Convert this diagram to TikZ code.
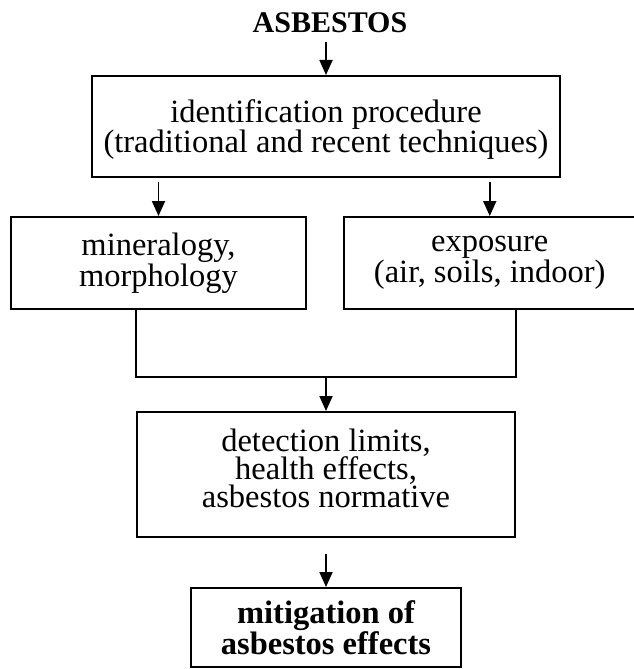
\documentclass[tikz,border=0pt]{standalone}
\usepackage{fontspec}
\setmainfont{Liberation Serif}
\usetikzlibrary{arrows.meta}
\newcommand{\upstrut}[1]{\rule{0pt}{#1}}
\newcommand{\dnstrut}[1]{\rule[-#1]{0pt}{0pt}}
\begin{document}
\begin{tikzpicture}[x=1bp,y=-1bp,
  box/.style={draw, line width=2bp, align=center, inner sep=0,
    font=\fontsize{32.5bp}{29bp}\selectfont},
  arr/.style={line width=1.8bp, -{Triangle[length=15bp,width=13bp]}},
  conn/.style={line width=2bp}]
\useasboundingbox (0,0) rectangle (634,669);
\node[font=\bfseries\fontsize{30bp}{30bp}\selectfont, inner sep=0, anchor=base] (asb) at (330,33) {ASBESTOS};
\node[box, minimum width=468bp, minimum height=101bp] (id) at (326,126.5)
  {\upstrut{29bp}identification procedure\\(traditional and recent techniques)};
\node[box, minimum width=295bp, minimum height=92bp] (minl) at (158.5,263)
  {mineralogy,\\morphology};
\node[box, minimum width=291.5bp, minimum height=92bp] (exp) at (489.75,263)
  {exposure\\(air, soils, indoor)};
\node[box, minimum width=378bp, minimum height=125bp, font=\fontsize{32.5bp}{28bp}\selectfont] (det) at (326,474.5)
  {detection limits,\\health effects,\\asbestos normative\dnstrut{12bp}};
\node[box, minimum width=270bp, minimum height=79bp, font=\bfseries\fontsize{32.5bp}{27bp}\selectfont] (mit) at (326,627.5)
  {mitigation of\\asbestos effects};
\coordinate (j) at (326,377);
\draw[arr] ([yshift=-9bp]asb.south -| id.north) -- (id.north);
\draw[arr] ([yshift=-4bp]id.south -| minl.north) -- (minl.north);
\draw[arr] ([yshift=-4bp]id.south -| exp.north) -- (exp.north);
\draw[conn] (minl.south -| det.west) |- (j) -| (exp.south -| det.east);
\draw[arr] (j) -- (det.north);
\draw[arr] ([yshift=-16bp]det.south) -- (mit.north);
\end{tikzpicture}
\end{document}
